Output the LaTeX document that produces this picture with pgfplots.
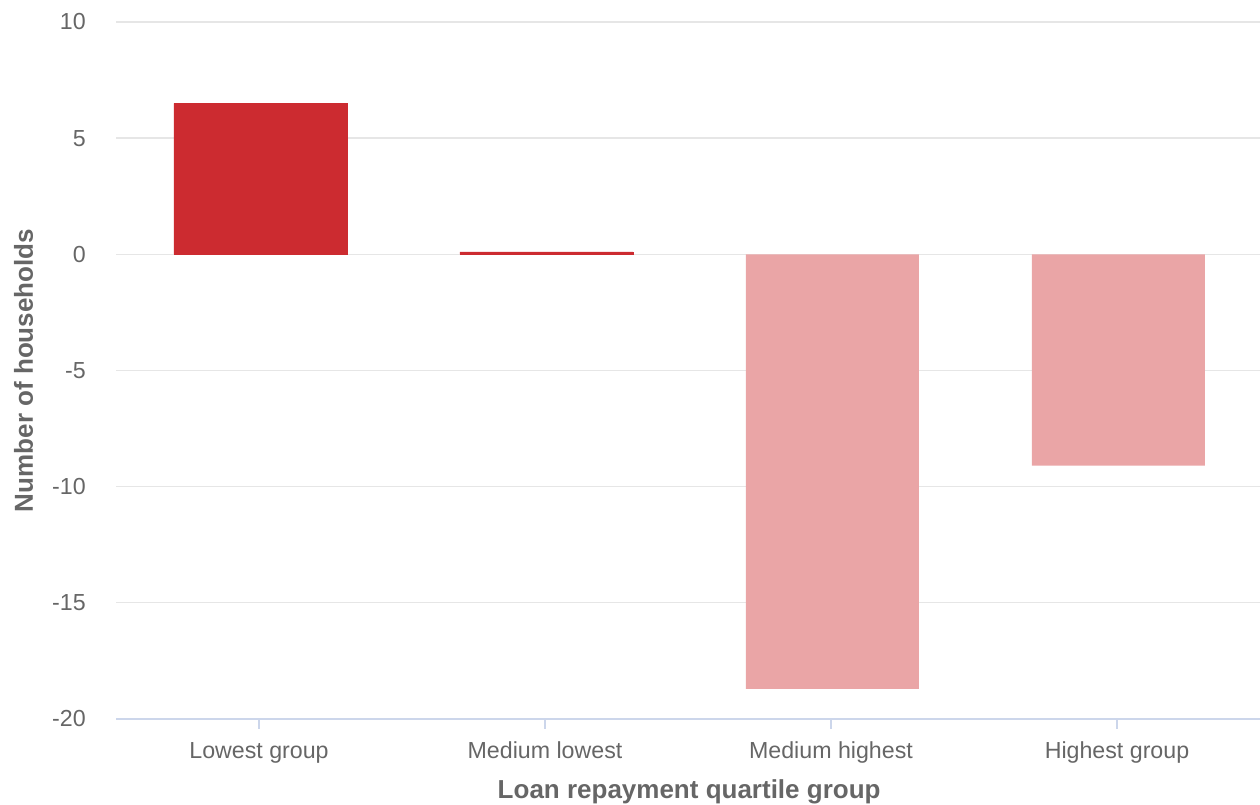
\documentclass[border=0pt]{standalone}
\usepackage{pgfplots}
\pgfplotsset{compat=1.18}
\usepackage{fontspec}
\setmainfont{Liberation Sans}
\definecolor{darkbar}{HTML}{CC2B30}
\definecolor{lightbar}{HTML}{EAA5A6}
\definecolor{gridc}{HTML}{E6E6E6}
\definecolor{axisc}{HTML}{CCD6EB}
\definecolor{textc}{HTML}{666666}
\begin{document}
\begin{tikzpicture}
\useasboundingbox (0,0) rectangle (945pt,603.75pt);
\begin{axis}[
  at={(87pt,64.5pt)}, anchor=south west,
  scale only axis, width=858pt, height=522.75pt,
  xmin=-0.5, xmax=3.5, ymin=-20, ymax=10,
  xtick={0,1,2,3},
  xticklabels={Lowest group, Medium lowest, Medium highest, Highest group},
  ytick={-20,-15,-10,-5,0,5,10},
  yticklabels={-20,-15,-10,-5,0,5,10},
  ymajorgrids, grid style={gridc, line width=1pt},
  axis x line*=bottom, axis y line*=left,
  y axis line style={draw=none},
  x axis line style={axisc, line width=1.4pt},
  xtick align=outside, major tick length=7.5pt,
  x tick style={axisc, line width=1pt},
  y tick style={draw=none},
  ticklabel style={font=\fontsize{17.4}{20}\selectfont, text=textc},
  xticklabel style={anchor=base, yshift=-22.5pt},
  yticklabel style={anchor=east, inner sep=0pt, xshift=-22.5pt},
  xlabel={Loan repayment quartile group},
  ylabel={Number of households},
  label style={font=\bfseries\fontsize{19.5}{22}\selectfont, text=textc},
  xlabel style={at={(axis description cs:0.501,-0.1135)}, anchor=base},
  ylabel style={at={(axis description cs:-0.0726,0.5)}, anchor=base, rotate=0},
  ybar, bar width=0.605, bar shift=1.1pt,
]
\addplot[fill=darkbar, draw=darkbar, line width=0.5pt] coordinates {(0,6.5) (1,0.1)};
\addplot[fill=lightbar, draw=none] coordinates {(2,-18.7) (3,-9.1)};
\end{axis}
\end{tikzpicture}
\end{document}
